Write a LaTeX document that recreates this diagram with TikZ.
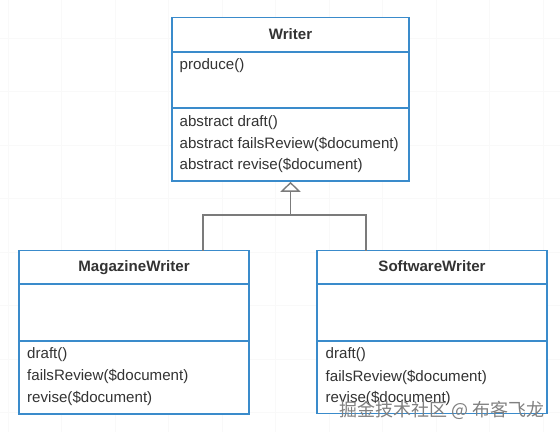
\documentclass[tikz,border=0pt]{standalone}
\usepackage{fontspec}
\setmainfont{Liberation Sans}
\newfontfamily\cjkfont{Noto Sans CJK SC}
\usetikzlibrary{arrows.meta,positioning,calc}

\definecolor{umlblue}{HTML}{3A8BCB}
\definecolor{umltext}{HTML}{333333}
\definecolor{umlline}{HTML}{7B7B7B}

\newcommand{\umlfont}{\fontsize{15.1}{21}\selectfont}

\tikzset{
  classbox/.style={draw=umlblue,line width=1.6pt,fill=white,rectangle,inner sep=0pt},
  classsep/.style={draw=umlblue,line width=1.6pt},
  classname/.style={anchor=base,font=\umlfont\bfseries,text=umltext,inner sep=0pt},
  member/.style={anchor=west,font=\umlfont,text=umltext,inner sep=0pt},
  inherit/.style={draw=umlline,line width=1.4pt},
  gridline/.style={draw=black!2.5,line width=0.6pt}
}

\begin{document}
\begin{tikzpicture}[x=1pt,y=-1pt]
    \useasboundingbox (0,0) rectangle (560,432);
    \fill[white] (0,0) rectangle (560,432);

    % faint background grid
    \foreach \gx in {8,61.5,...,560} \draw[gridline] (\gx,0) -- (\gx,432);
    \foreach \gy in {38,91.5,...,432} \draw[gridline] (0,\gy) -- (560,\gy);

    % Writer
    \node[classbox,minimum width=237pt,minimum height=163.5pt] (writer) at (290.5,99.25) {};
    \draw[classsep] (writer.west |- 0,52) -- (writer.east |- 0,52);
    \draw[classsep] (writer.west |- 0,107.7) -- (writer.east |- 0,107.7);
    \node[classname] (writer-name) at (290.5,39.8) {Writer};
    \node[member] (writer-produce) at (179.5,65.5) {produce()};
    \node[member] (writer-draft) at (179.5,122.7) {abstract draft()};
    \node[member] (writer-fails) at (179.5,144) {abstract failsReview(\$document)};
    \node[member] (writer-revise) at (179.5,165) {abstract revise(\$document)};

    % MagazineWriter
    \node[classbox,minimum width=230pt,minimum height=163.5pt] (magazine) at (134,332.25) {};
    \draw[classsep] (magazine.west |- 0,284) -- (magazine.east |- 0,284);
    \draw[classsep] (magazine.west |- 0,341) -- (magazine.east |- 0,341);
    \node[classname] (magazine-name) at (134,271.5) {MagazineWriter};
    \node[member] (magazine-draft) at (27,355) {draft()};
    \node[member] (magazine-fails) at (27,376.7) {failsReview(\$document)};
    \node[member] (magazine-revise) at (27,398) {revise(\$document)};

    % SoftwareWriter
    \node[classbox,minimum width=230pt,minimum height=163pt] (software) at (432,332) {};
    \draw[classsep] (software.west |- 0,284) -- (software.east |- 0,284);
    \draw[classsep] (software.west |- 0,341) -- (software.east |- 0,341);
    \node[classname] (software-name) at (432,271.5) {SoftwareWriter};
    \node[member] (software-draft) at (325.5,355) {draft()};
    \node[member] (software-fails) at (325.5,377) {failsReview(\$document)};
    \node[member] (software-revise) at (325.5,398) {revise(\$document)};

    % generalisation
    \coordinate (magazine-top) at (203,250.5);
    \coordinate (software-top) at (366,250.5);
    \coordinate (bus) at (writer.south |- 0,215);
    \draw[inherit] (magazine-top) |- (bus) -| (software-top);
    \draw[inherit,-{Triangle[open,width=20pt,length=10pt,fill=white]}] (bus) -- (writer.south);

    % watermark
    \node[text=black!50,font=\cjkfont\fontsize{18}{18}\selectfont,anchor=east,inner sep=0pt] (mark) at (545,410) {掘金技术社区 @ 布客飞龙};
\end{tikzpicture}
\end{document}
